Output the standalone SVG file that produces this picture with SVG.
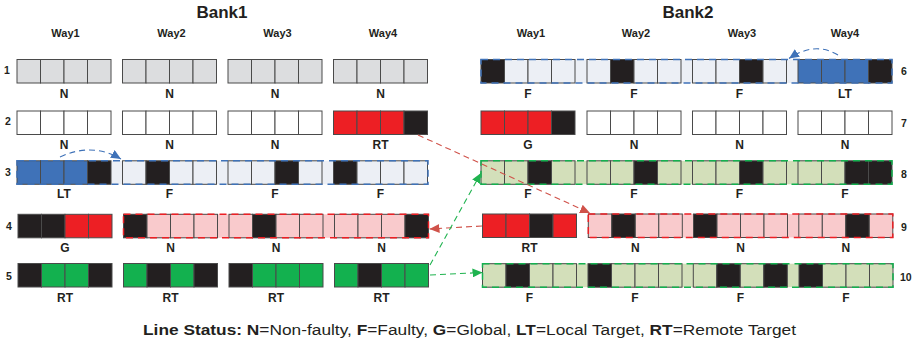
<svg xmlns="http://www.w3.org/2000/svg" width="914" height="347" viewBox="0 0 914 347">
<style>
text{font-family:"Liberation Sans",Arial,sans-serif;fill:#231f20}
.t{font-size:17px;font-weight:bold;text-anchor:middle}
.w{font-size:11px;font-weight:bold;text-anchor:middle}
.n{font-size:10.5px;font-weight:bold}
.lb{font-size:12px;font-weight:bold;text-anchor:middle}
.lg{font-size:15.5px}
.b{font-weight:bold}
rect.c{stroke:#4a4a4a;stroke-width:1}
.g{fill:#dcdddf}.wh{fill:#ffffff}.l{fill:#eceff5}.bl{fill:#3f72b8}.k{fill:#231f20}.r{fill:#ed1f24}.p{fill:#f9cacc}.e{fill:#d3dfba}.G{fill:#13b14f}
.dsh{fill:none;stroke-width:1.5;stroke-dasharray:7 5}
.con{fill:none;stroke-width:1.1;stroke-dasharray:6 4}
</style>
<defs>
<marker id="ab" markerUnits="userSpaceOnUse" markerWidth="10" markerHeight="9" refX="10" refY="4.5" orient="auto"><path d="M0,0 L10,4.5 L0,9 z" fill="#3f72b8"/></marker>
<marker id="ar" markerUnits="userSpaceOnUse" markerWidth="10" markerHeight="9" refX="10" refY="4.5" orient="auto"><path d="M0,0 L10,4.5 L0,9 z" fill="#d0524a"/></marker>
<marker id="ag" markerUnits="userSpaceOnUse" markerWidth="10" markerHeight="9" refX="10" refY="4.5" orient="auto"><path d="M0,0 L10,4.5 L0,9 z" fill="#1fb34f"/></marker>
</defs>

<text class="t" x="222" y="17.5">Bank1</text>
<text class="t" x="688" y="17.5">Bank2</text>
<g id="ways">
<text class="w" x="65.5" y="36.5">Way1</text>
<text class="w" x="171.5" y="36.5">Way2</text>
<text class="w" x="277.5" y="36.5">Way3</text>
<text class="w" x="383" y="36.5">Way4</text>
<text class="w" x="531" y="36.5">Way1</text>
<text class="w" x="636" y="36.5">Way2</text>
<text class="w" x="742" y="36.5">Way3</text>
<text class="w" x="845" y="36.5">Way4</text>
</g>
<g id="rownums" class="n">
<text class="n" x="4" y="73.5">1</text>
<text class="n" x="5" y="125">2</text>
<text class="n" x="5" y="176">3</text>
<text class="n" x="6" y="229.5">4</text>
<text class="n" x="6" y="279.5">5</text>
<text class="n" x="901" y="74.5">6</text>
<text class="n" x="901" y="126.5">7</text>
<text class="n" x="901" y="178">8</text>
<text class="n" x="901" y="230.5">9</text>
<text class="n" x="900" y="280.5">10</text>
</g>

<!-- row backgrounds -->
<g id="bgs">
<rect x="17" y="160.8" width="411" height="23.5" class="l"/>
<rect x="123.5" y="214.3" width="305" height="23.5" class="p"/>
<rect x="481" y="59.5" width="411" height="23.5" class="l"/>
<rect x="481" y="160.8" width="411" height="23.5" class="e"/>
<rect x="588.3" y="214" width="304.5" height="23.5" class="p"/>
<rect x="482.5" y="263.7" width="410.5" height="23.5" class="e"/>
</g>

<!-- Bank1 row 1 -->
<g id="r1w1" transform="translate(17,59.5)"><rect class="c g" x="0" width="23.5" height="23.5"/><rect class="c g" x="23.5" width="23.5" height="23.5"/><rect class="c g" x="47" width="23.5" height="23.5"/><rect class="c g" x="70.5" width="23.5" height="23.5"/><text class="lb" x="47" y="38">N</text></g>
<g id="r1w2" transform="translate(122.5,59.5)"><rect class="c g" x="0" width="23.5" height="23.5"/><rect class="c g" x="23.5" width="23.5" height="23.5"/><rect class="c g" x="47" width="23.5" height="23.5"/><rect class="c g" x="70.5" width="23.5" height="23.5"/><text class="lb" x="47" y="38">N</text></g>
<g id="r1w3" transform="translate(228,59.5)"><rect class="c g" x="0" width="23.5" height="23.5"/><rect class="c g" x="23.5" width="23.5" height="23.5"/><rect class="c g" x="47" width="23.5" height="23.5"/><rect class="c g" x="70.5" width="23.5" height="23.5"/><text class="lb" x="47" y="38">N</text></g>
<g id="r1w4" transform="translate(333.5,59.5)"><rect class="c g" x="0" width="23.5" height="23.5"/><rect class="c g" x="23.5" width="23.5" height="23.5"/><rect class="c g" x="47" width="23.5" height="23.5"/><rect class="c g" x="70.5" width="23.5" height="23.5"/><text class="lb" x="47" y="38">N</text></g>
<!-- row 2 -->
<g id="r2w1" transform="translate(17,111)"><rect class="c wh" x="0" width="23.5" height="23.5"/><rect class="c wh" x="23.5" width="23.5" height="23.5"/><rect class="c wh" x="47" width="23.5" height="23.5"/><rect class="c wh" x="70.5" width="23.5" height="23.5"/><text class="lb" x="47" y="37.5">N</text></g>
<g id="r2w2" transform="translate(122.5,111)"><rect class="c wh" x="0" width="23.5" height="23.5"/><rect class="c wh" x="23.5" width="23.5" height="23.5"/><rect class="c wh" x="47" width="23.5" height="23.5"/><rect class="c wh" x="70.5" width="23.5" height="23.5"/><text class="lb" x="47" y="37.5">N</text></g>
<g id="r2w3" transform="translate(228,111)"><rect class="c wh" x="0" width="23.5" height="23.5"/><rect class="c wh" x="23.5" width="23.5" height="23.5"/><rect class="c wh" x="47" width="23.5" height="23.5"/><rect class="c wh" x="70.5" width="23.5" height="23.5"/><text class="lb" x="47" y="37.5">N</text></g>
<g id="r2w4" transform="translate(333.5,111)"><rect class="c r" x="0" width="23.5" height="23.5"/><rect class="c r" x="23.5" width="23.5" height="23.5"/><rect class="c r" x="47" width="23.5" height="23.5"/><rect class="c k" x="70.5" width="23.5" height="23.5"/><text class="lb" x="47" y="37.5">RT</text></g>
<!-- row 3 -->
<g id="r3w1" transform="translate(17,160.8)"><rect class="c bl" x="0" width="23.5" height="23.5"/><rect class="c bl" x="23.5" width="23.5" height="23.5"/><rect class="c bl" x="47" width="23.5" height="23.5"/><rect class="c k" x="70.5" width="23.5" height="23.5"/><text class="lb" x="47" y="37">LT</text></g>
<g id="r3w2" transform="translate(122.5,160.8)"><rect class="c l" x="0" width="23.5" height="23.5"/><rect class="c k" x="23.5" width="23.5" height="23.5"/><rect class="c l" x="47" width="23.5" height="23.5"/><rect class="c l" x="70.5" width="23.5" height="23.5"/><text class="lb" x="47" y="37">F</text></g>
<g id="r3w3" transform="translate(228,160.8)"><rect class="c l" x="0" width="23.5" height="23.5"/><rect class="c l" x="23.5" width="23.5" height="23.5"/><rect class="c k" x="47" width="23.5" height="23.5"/><rect class="c l" x="70.5" width="23.5" height="23.5"/><text class="lb" x="47" y="37">F</text></g>
<g id="r3w4" transform="translate(333.5,160.8)"><rect class="c k" x="0" width="23.5" height="23.5"/><rect class="c l" x="23.5" width="23.5" height="23.5"/><rect class="c l" x="47" width="23.5" height="23.5"/><rect class="c l" x="70.5" width="23.5" height="23.5"/><text class="lb" x="47" y="37">F</text></g>
<!-- row 4 -->
<g id="r4w1" transform="translate(18,214.3)"><rect class="c k" x="0" width="23.5" height="23.5"/><rect class="c k" x="23.5" width="23.5" height="23.5"/><rect class="c r" x="47" width="23.5" height="23.5"/><rect class="c r" x="70.5" width="23.5" height="23.5"/><text class="lb" x="47" y="37.5">G</text></g>
<g id="r4w2" transform="translate(123.5,214.3)"><rect class="c k" x="0" width="23.5" height="23.5"/><rect class="c p" x="23.5" width="23.5" height="23.5"/><rect class="c p" x="47" width="23.5" height="23.5"/><rect class="c p" x="70.5" width="23.5" height="23.5"/><text class="lb" x="47" y="37.5">N</text></g>
<g id="r4w3" transform="translate(229,214.3)"><rect class="c p" x="0" width="23.5" height="23.5"/><rect class="c k" x="23.5" width="23.5" height="23.5"/><rect class="c p" x="47" width="23.5" height="23.5"/><rect class="c p" x="70.5" width="23.5" height="23.5"/><text class="lb" x="47" y="37.5">N</text></g>
<g id="r4w4" transform="translate(334.5,214.3)"><rect class="c p" x="0" width="23.5" height="23.5"/><rect class="c p" x="23.5" width="23.5" height="23.5"/><rect class="c p" x="47" width="23.5" height="23.5"/><rect class="c k" x="70.5" width="23.5" height="23.5"/><text class="lb" x="47" y="37.5">N</text></g>
<!-- row 5 -->
<g id="r5w1" transform="translate(18,263.5)"><rect class="c k" x="0" width="23.5" height="23.5"/><rect class="c G" x="23.5" width="23.5" height="23.5"/><rect class="c G" x="47" width="23.5" height="23.5"/><rect class="c k" x="70.5" width="23.5" height="23.5"/><text class="lb" x="47" y="38.2">RT</text></g>
<g id="r5w2" transform="translate(123.5,263.5)"><rect class="c G" x="0" width="23.5" height="23.5"/><rect class="c k" x="23.5" width="23.5" height="23.5"/><rect class="c G" x="47" width="23.5" height="23.5"/><rect class="c k" x="70.5" width="23.5" height="23.5"/><text class="lb" x="47" y="38.2">RT</text></g>
<g id="r5w3" transform="translate(229,263.5)"><rect class="c k" x="0" width="23.5" height="23.5"/><rect class="c G" x="23.5" width="23.5" height="23.5"/><rect class="c G" x="47" width="23.5" height="23.5"/><rect class="c G" x="70.5" width="23.5" height="23.5"/><text class="lb" x="47" y="38.2">RT</text></g>
<g id="r5w4" transform="translate(334.5,263.5)"><rect class="c G" x="0" width="23.5" height="23.5"/><rect class="c k" x="23.5" width="23.5" height="23.5"/><rect class="c G" x="47" width="23.5" height="23.5"/><rect class="c G" x="70.5" width="23.5" height="23.5"/><text class="lb" x="47" y="38.2">RT</text></g>

<!-- Bank2 row 6 -->
<g id="r6w1" transform="translate(481,59.5)"><rect class="c k" x="0" width="23.5" height="23.5"/><rect class="c l" x="23.5" width="23.5" height="23.5"/><rect class="c l" x="47" width="23.5" height="23.5"/><rect class="c l" x="70.5" width="23.5" height="23.5"/><text class="lb" x="47" y="38">F</text></g>
<g id="r6w2" transform="translate(587,59.5)"><rect class="c l" x="0" width="23.5" height="23.5"/><rect class="c k" x="23.5" width="23.5" height="23.5"/><rect class="c l" x="47" width="23.5" height="23.5"/><rect class="c l" x="70.5" width="23.5" height="23.5"/><text class="lb" x="47" y="38">F</text></g>
<g id="r6w3" transform="translate(692.5,59.5)"><rect class="c l" x="0" width="23.5" height="23.5"/><rect class="c l" x="23.5" width="23.5" height="23.5"/><rect class="c k" x="47" width="23.5" height="23.5"/><rect class="c l" x="70.5" width="23.5" height="23.5"/><text class="lb" x="47" y="38">F</text></g>
<g id="r6w4" transform="translate(798,59.5)"><rect class="c bl" x="0" width="23.5" height="23.5"/><rect class="c bl" x="23.5" width="23.5" height="23.5"/><rect class="c bl" x="47" width="23.5" height="23.5"/><rect class="c k" x="70.5" width="23.5" height="23.5"/><text class="lb" x="47" y="38">LT</text></g>
<!-- row 7 -->
<g id="r7w1" transform="translate(481,111)"><rect class="c r" x="0" width="23.5" height="23.5"/><rect class="c r" x="23.5" width="23.5" height="23.5"/><rect class="c r" x="47" width="23.5" height="23.5"/><rect class="c k" x="70.5" width="23.5" height="23.5"/><text class="lb" x="47" y="37.5">G</text></g>
<g id="r7w2" transform="translate(587,111)"><rect class="c wh" x="0" width="23.5" height="23.5"/><rect class="c wh" x="23.5" width="23.5" height="23.5"/><rect class="c wh" x="47" width="23.5" height="23.5"/><rect class="c wh" x="70.5" width="23.5" height="23.5"/><text class="lb" x="47" y="37.5">N</text></g>
<g id="r7w3" transform="translate(692.5,111)"><rect class="c wh" x="0" width="23.5" height="23.5"/><rect class="c wh" x="23.5" width="23.5" height="23.5"/><rect class="c wh" x="47" width="23.5" height="23.5"/><rect class="c wh" x="70.5" width="23.5" height="23.5"/><text class="lb" x="47" y="37.5">N</text></g>
<g id="r7w4" transform="translate(798,111)"><rect class="c wh" x="0" width="23.5" height="23.5"/><rect class="c wh" x="23.5" width="23.5" height="23.5"/><rect class="c wh" x="47" width="23.5" height="23.5"/><rect class="c wh" x="70.5" width="23.5" height="23.5"/><text class="lb" x="47" y="37.5">N</text></g>
<!-- row 8 -->
<g id="r8w1" transform="translate(481,160.8)"><rect class="c e" x="0" width="23.5" height="23.5"/><rect class="c e" x="23.5" width="23.5" height="23.5"/><rect class="c k" x="47" width="23.5" height="23.5"/><rect class="c e" x="70.5" width="23.5" height="23.5"/><text class="lb" x="47" y="37">F</text></g>
<g id="r8w2" transform="translate(587,160.8)"><rect class="c e" x="0" width="23.5" height="23.5"/><rect class="c e" x="23.5" width="23.5" height="23.5"/><rect class="c k" x="47" width="23.5" height="23.5"/><rect class="c e" x="70.5" width="23.5" height="23.5"/><text class="lb" x="47" y="37">F</text></g>
<g id="r8w3" transform="translate(692.5,160.8)"><rect class="c e" x="0" width="23.5" height="23.5"/><rect class="c e" x="23.5" width="23.5" height="23.5"/><rect class="c k" x="47" width="23.5" height="23.5"/><rect class="c e" x="70.5" width="23.5" height="23.5"/><text class="lb" x="47" y="37">F</text></g>
<g id="r8w4" transform="translate(798,160.8)"><rect class="c e" x="0" width="23.5" height="23.5"/><rect class="c e" x="23.5" width="23.5" height="23.5"/><rect class="c k" x="47" width="23.5" height="23.5"/><rect class="c k" x="70.5" width="23.5" height="23.5"/><text class="lb" x="47" y="37">F</text></g>
<!-- row 9 -->
<g id="r9w1" transform="translate(482.5,214)"><rect class="c r" x="0" width="23.5" height="23.5"/><rect class="c r" x="23.5" width="23.5" height="23.5"/><rect class="c k" x="47" width="23.5" height="23.5"/><rect class="c r" x="70.5" width="23.5" height="23.5"/><text class="lb" x="47" y="37.7">RT</text></g>
<g id="r9w2" transform="translate(588.3,214)"><rect class="c p" x="0" width="23.5" height="23.5"/><rect class="c k" x="23.5" width="23.5" height="23.5"/><rect class="c p" x="47" width="23.5" height="23.5"/><rect class="c p" x="70.5" width="23.5" height="23.5"/><text class="lb" x="47" y="37.7">N</text></g>
<g id="r9w3" transform="translate(693.5,214)"><rect class="c k" x="0" width="23.5" height="23.5"/><rect class="c p" x="23.5" width="23.5" height="23.5"/><rect class="c p" x="47" width="23.5" height="23.5"/><rect class="c p" x="70.5" width="23.5" height="23.5"/><text class="lb" x="47" y="37.7">N</text></g>
<g id="r9w4" transform="translate(798.8,214)"><rect class="c p" x="0" width="23.5" height="23.5"/><rect class="c p" x="23.5" width="23.5" height="23.5"/><rect class="c k" x="47" width="23.5" height="23.5"/><rect class="c p" x="70.5" width="23.5" height="23.5"/><text class="lb" x="47" y="37.7">N</text></g>
<!-- row 10 -->
<g id="r10w1" transform="translate(482.5,263.7)"><rect class="c e" x="0" width="23.5" height="23.5"/><rect class="c k" x="23.5" width="23.5" height="23.5"/><rect class="c e" x="47" width="23.5" height="23.5"/><rect class="c e" x="70.5" width="23.5" height="23.5"/><text class="lb" x="47" y="38.5">F</text></g>
<g id="r10w2" transform="translate(588,263.7)"><rect class="c k" x="0" width="23.5" height="23.5"/><rect class="c e" x="23.5" width="23.5" height="23.5"/><rect class="c e" x="47" width="23.5" height="23.5"/><rect class="c e" x="70.5" width="23.5" height="23.5"/><text class="lb" x="47" y="38.5">F</text></g>
<g id="r10w3" transform="translate(693.3,263.7)"><rect class="c e" x="0" width="23.5" height="23.5"/><rect class="c k" x="23.5" width="23.5" height="23.5"/><rect class="c e" x="47" width="23.5" height="23.5"/><rect class="c k" x="70.5" width="23.5" height="23.5"/><text class="lb" x="47" y="38.5">F</text></g>
<g id="r10w4" transform="translate(799,263.7)"><rect class="c k" x="0" width="23.5" height="23.5"/><rect class="c e" x="23.5" width="23.5" height="23.5"/><rect class="c e" x="47" width="23.5" height="23.5"/><rect class="c e" x="70.5" width="23.5" height="23.5"/><text class="lb" x="47" y="38.5">F</text></g>

<!-- dashed row outlines -->
<g id="outlines">
<rect x="17" y="160.8" width="411" height="23.5" class="dsh" stroke="#3f72b8"/>
<rect x="123.5" y="214.3" width="305" height="23.5" class="dsh" stroke="#ed1f24"/>
<rect x="481" y="59.5" width="411" height="23.5" class="dsh" stroke="#3f72b8"/>
<rect x="481" y="160.8" width="411" height="23.5" class="dsh" stroke="#13b14f"/>
<rect x="588.3" y="214" width="304.5" height="23.5" class="dsh" stroke="#ed1f24"/>
<rect x="482.5" y="263.7" width="410.5" height="23.5" class="dsh" stroke="#13b14f"/>
</g>

<g id="connectors">
<path class="con" d="M60,157 Q92,142 121,159" stroke="#3f72b8" marker-end="url(#ab)"/>
<path class="con" d="M838,55 Q815,41 789,58.5" stroke="#3f72b8" marker-end="url(#ab)"/>
<path class="con" d="M418,135 L590,213" stroke="#d0524a" marker-end="url(#ar)"/>
<path class="con" d="M482,226 L429.5,229" stroke="#d0524a" marker-end="url(#ar)"/>
<path class="con" d="M430,265 L481,173" stroke="#1fb34f" marker-end="url(#ag)"/>
<path class="con" d="M430,275 L482.5,272.5" stroke="#1fb34f" marker-end="url(#ag)"/>
</g>

<text class="lg" x="143" y="335" textLength="653" lengthAdjust="spacingAndGlyphs"><tspan class="b">Line Status: N</tspan>=Non-faulty, <tspan class="b">F</tspan>=Faulty, <tspan class="b">G</tspan>=Global, <tspan class="b">LT</tspan>=Local Target, <tspan class="b">RT</tspan>=Remote Target</text>
</svg>
